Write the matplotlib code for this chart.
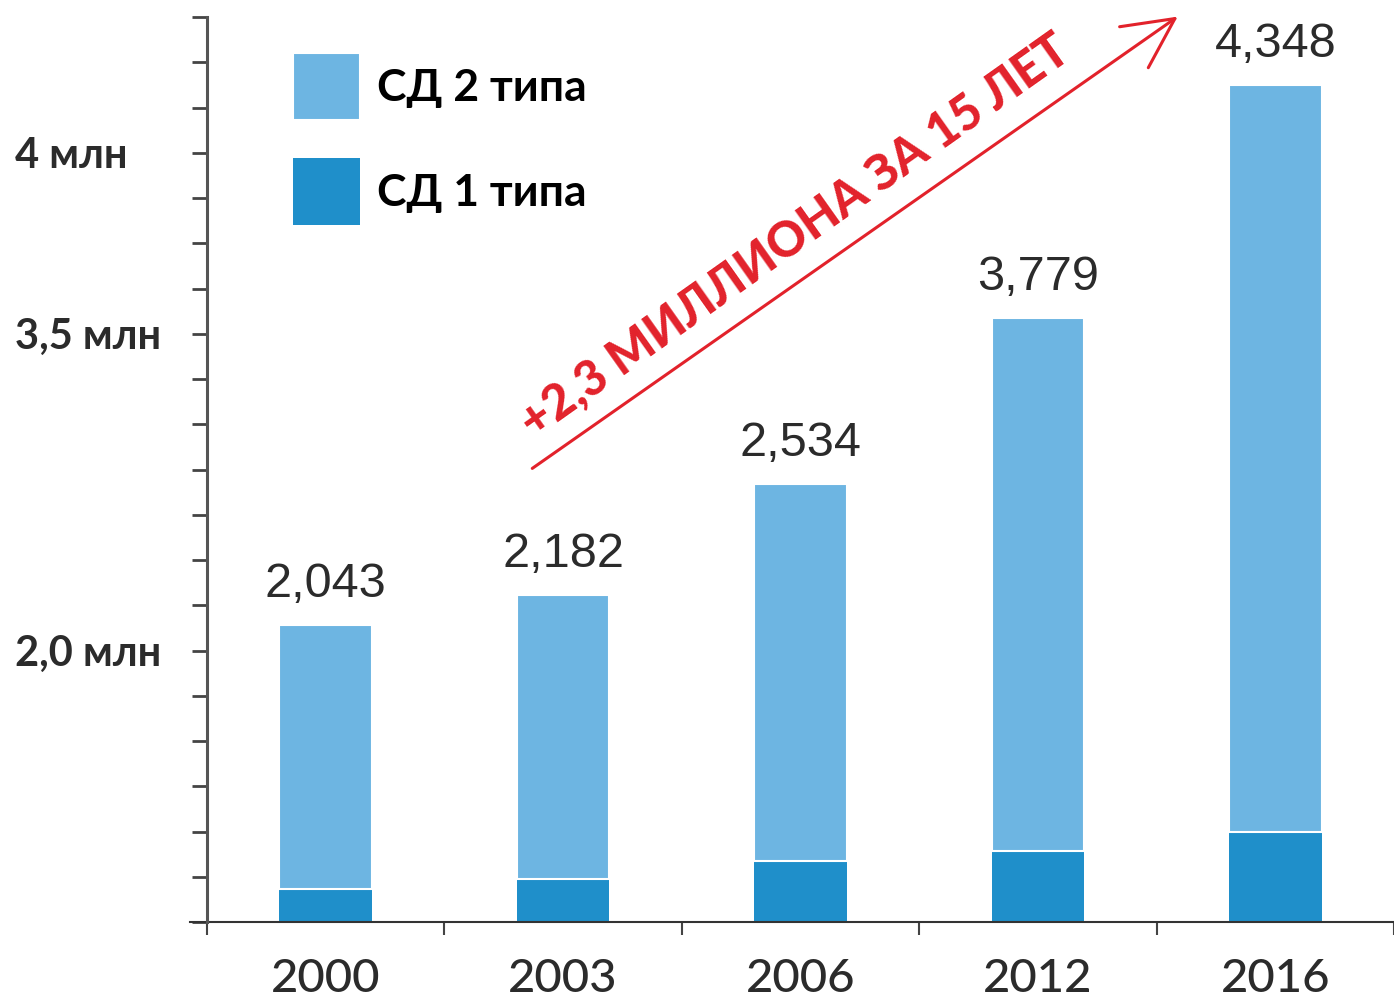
import numpy as np
import matplotlib
matplotlib.use("Agg")
import matplotlib.pyplot as plt

years = ["2000", "2003", "2006", "2012", "2016"]
total = [2.043, 2.182, 2.534, 3.779, 4.348]      # млн, total diabetes
type1 = [0.24, 0.32, 0.45, 0.52, 0.66]          # млн
total_labels = ["2,043", "2,182", "2,534", "3,779", "4,348"]
y_label_vals = [2.0, 3.5, 4.0]
y_labels = ["2,0 млн", "3,5 млн", "4 млн"]

# the original axis is not linear: anchor values -> tick units (20 ticks)
anchor_vals = np.array([0.0, 2.0, 2.043, 2.182, 2.534, 3.5, 3.779, 4.0, 4.348, 4.70])
anchor_units = np.array([0.0, 6.0, 6.56, 7.23, 9.68, 13.0, 13.35, 17.0, 18.5, 20.0])


def fwd(v):
    return np.interp(v, anchor_vals, anchor_units)


def inv(u):
    return np.interp(u, anchor_units, anchor_vals)


c_t2 = "#6db5e2"
c_t1 = "#1f8fca"
red = "#e2222b"
txt = "#2b2b2b"

fig = plt.figure(figsize=(13.94, 10), dpi=100)
ax = fig.add_axes([207 / 1394, 78 / 1000, 1187 / 1394, 905 / 1000])
ax.set_yscale("function", functions=(fwd, inv))

x = np.arange(len(years))
t2 = np.array(total) - np.array(type1)
ax.bar(x, type1, width=0.39, color=c_t1, label="СД 1 типа")
ax.bar(x, t2, bottom=type1, width=0.39, color=c_t2, edgecolor="white",
       linewidth=1.5, label="СД 2 типа")

for xi, v, lab in zip(x, total, total_labels):
    ax.annotate(lab, (xi, v), xytext=(0, 13), textcoords="offset points",
                ha="center", va="bottom", fontsize=35, color=txt,
                family=["Liberation Sans Narrow", "Liberation Sans"])

ax.set_xlim(-0.5, 4.5)
ax.set_ylim(0, inv(20))

ax.set_xticks(x)
ax.set_xticklabels(years, fontsize=34, color=txt, family="Lato",
                   fontweight="medium")
ax.set_xticks(np.arange(-0.5, 5), minor=True)
ax.tick_params(axis="x", which="major", length=0, pad=26)
ax.tick_params(axis="x", which="minor", length=9, width=1.5, color="#444")

ax.set_yticks(y_label_vals)
ax.set_yticklabels(y_labels, fontsize=30, color=txt, family="Lato",
                   fontweight="bold", ha="left")
ax.set_yticks(inv(np.arange(21)), minor=True)
ax.tick_params(axis="y", which="both", length=11, width=2, color="#444")
ax.tick_params(axis="y", which="major", pad=127)

for s in ["top", "right", "bottom"]:
    ax.spines[s].set_visible(False)
ax.spines["left"].set_linewidth(2.2)
ax.spines["left"].set_color("#555")
ax.plot([-0.014, 1], [0, 0], transform=ax.transAxes, color="#333", lw=1.5,
        clip_on=False)

handles, labels = ax.get_legend_handles_labels()
ax.legend(handles[::-1], labels[::-1], loc="upper left",
          bbox_to_anchor=(293 / 1394, 1 - 53 / 1000),
          bbox_transform=fig.transFigure, frameon=False,
          prop={"family": "Lato", "size": 32, "weight": "bold"},
          handlelength=1.51, handleheight=1.95, labelspacing=0.85,
          handletextpad=0.38, borderpad=0, borderaxespad=0)

ax.annotate("", xy=(1180 / 1394, 1 - 15 / 1000), xytext=(530 / 1394, 1 - 470 / 1000),
            xycoords="figure fraction", textcoords="figure fraction",
            arrowprops=dict(arrowstyle="->,head_length=1.8,head_width=0.9",
                            color=red, lw=2.2, mutation_scale=20))
fig.text(795 / 1394, 1 - 236 / 1000, "+2,3 МИЛЛИОНА ЗА 15 ЛЕТ", color=red,
         fontsize=35, fontweight="black", family="Lato", rotation=35.3,
         rotation_mode="anchor", ha="center", va="center")

fig.savefig("out.png", dpi=100)
